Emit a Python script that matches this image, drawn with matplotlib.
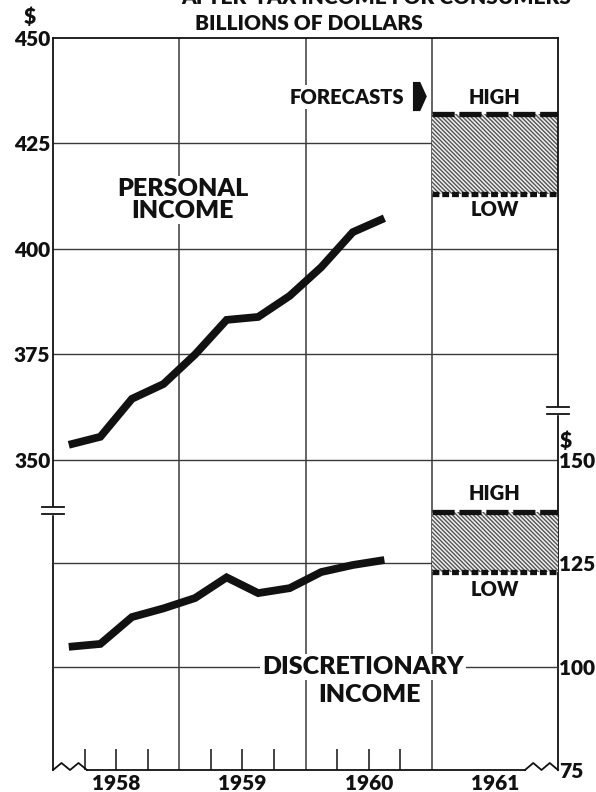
import matplotlib
matplotlib.use("Agg")
import matplotlib.pyplot as plt
from matplotlib.path import Path
import numpy as np

plt.rcParams['font.family'] = ['Lato', 'DejaVu Sans']
plt.rcParams['font.weight'] = 'heavy'
plt.rcParams['hatch.linewidth'] = 1.0

# Quarterly estimates, seasonally adjusted annual rates, billions of dollars
years = [1958, 1959, 1960, 1961]
quarter_years = [1958, 1958, 1958, 1958, 1959, 1959, 1959, 1959, 1960, 1960, 1960]
quarter_nums = [1, 2, 3, 4, 1, 2, 3, 4, 1, 2, 3]
personal_income = [353.6, 355.5, 364.5, 368.0, 375.0, 383.2, 383.9, 388.9, 395.7, 404.0, 407.3]
discretionary_income = [104.8, 105.5, 112.0, 114.1, 116.6, 121.6, 117.8, 119.0, 122.9, 124.6, 125.8]

# 1961 forecast ranges (low, high)
forecast_personal = [413.0, 432.0]
forecast_discretionary = [123.0, 137.5]

left_ticks = [350, 375, 400, 425, 450]
right_ticks = [75, 100, 125, 150]

W, H = 596, 792
fig = plt.figure(figsize=(W / 100, H / 100), dpi=100)
ax = fig.add_axes([53 / W, 22 / H, 505 / W, 732 / H])
ax2 = ax.twinx()
ax2.patch.set_visible(False)

ax.set_xlim(1958, 1962)
ax.set_ylim(276.54, 450)
ax2.set_ylim(75, 252.1)

ink = '#111111'
grid = '#3a3a3a'
WT = 'heavy'

x_q = [y + (q - 0.5) / 4 for y, q in zip(quarter_years, quarter_nums)]

# horizontal grid and year dividers
for v in left_ticks[:-1]:
    ax.axhline(v, color=grid, lw=1.0, zorder=1)
for v in right_ticks[1:3]:
    ax2.axhline(v, color=grid, lw=1.0, zorder=1)
for y in years[1:]:
    ax.axvline(y, color=grid, lw=1.1, zorder=1)

# series
ax.plot(x_q, personal_income, color=ink, lw=5.6, solid_joinstyle='miter',
        solid_capstyle='butt', zorder=4)
ax2.plot(x_q, discretionary_income, color=ink, lw=5.6, solid_joinstyle='miter',
         solid_capstyle='butt', zorder=4)

# forecast bands
def forecast_band(axis, low, high, x0, x1):
    axis.fill_between([x0, x1], [low, low], [high, high], facecolor='#efefef',
                      edgecolor='#555555', hatch='\\' * 8, linewidth=0, zorder=2)
    axis.hlines(high, x0, x1, color=ink, lw=3.8, linestyles=(0, (4.2, 0.9)),
                zorder=5).set_capstyle('butt')
    axis.hlines(low, x0, x1, color=ink, lw=3.8, linestyles=(0, (1.3, 0.55)),
                zorder=5).set_capstyle('butt')

forecast_band(ax, forecast_personal[0], forecast_personal[1], 1961, 1962)
forecast_band(ax2, forecast_discretionary[0], forecast_discretionary[1], 1961, 1962)

# spines
for s in ax2.spines.values():
    s.set_visible(False)
ax.spines['bottom'].set_visible(False)
for s in ['left', 'right', 'top']:
    ax.spines[s].set_linewidth(1.3)
    ax.spines[s].set_color(ink)

# y tick labels
ax.set_yticks(left_ticks)
ax.set_yticklabels([str(v) for v in left_ticks], fontsize=15, fontweight=WT)
ax.tick_params(axis='y', length=0, pad=2, colors=ink)
ax2.set_yticks(right_ticks)
ax2.set_yticklabels([str(v) for v in right_ticks], fontsize=15, fontweight=WT)
ax2.tick_params(axis='y', length=0, pad=1, colors=ink)

# x: year labels centred in each year, quarter ticks inside
ax.set_xticks([y + 0.5 for y in years])
ax.set_xticklabels([str(y) for y in years], fontsize=15, fontweight=WT)
ax.set_xticks([y + f for y in years[:-1] for f in (0.25, 0.5, 0.75)], minor=True)
ax.xaxis.remove_overlapping_locs = False
ax.tick_params(axis='x', which='major', length=0, pad=3, colors=ink)
ax.tick_params(axis='x', which='minor', direction='in', length=15, width=1.1,
               color=ink)

# bottom baseline with broken-scale zigzags at both ends
tA = ax.transAxes
zl = 34 / 505
zr = 472 / 505
h = 7 / 732
ax.plot([zl, zr], [0, 0], color=ink, lw=1.3, transform=tA, clip_on=False)
xs = np.linspace(0, zl, 5)
ax.plot(xs, [0, h, 0, h, 0], color=ink, lw=1.3, transform=tA, clip_on=False)
xs = np.linspace(zr, 1, 5)
ax.plot(xs, [0, h, 0, h, 0], color=ink, lw=1.3, transform=tA, clip_on=False)

# axis break marks
def axis_break(xc, yc):
    dx = 11 / 505
    dy = 3.5 / 732
    ax.fill_between([xc - 0.004, xc + 0.004], [yc - dy] * 2, [yc + dy] * 2,
                    color='white', transform=tA, clip_on=False, zorder=6)
    for s in (-dy, dy):
        ax.plot([xc - dx, xc + dx], [yc + s, yc + s], color=ink, lw=1.3,
                transform=tA, clip_on=False, zorder=7)

axis_break(0.0, (770 - 510) / 732)
axis_break(1.0, (770 - 410) / 732)

# texts
def ftext(x, y, s, size=14, ha='center', va='center', box=False, **kw):
    kws = dict(fontsize=size, fontweight=WT, ha=ha, va=va, color=ink,
               transform=fig.transFigure, zorder=10, **kw)
    if box:
        kws['bbox'] = dict(facecolor='white', edgecolor='none', pad=1.5)
    return fig.text(x / W, 1 - y / H, s, **kws)

ftext(376, 4, 'AFTER-TAX INCOME FOR CONSUMERS', size=15, va='baseline')
ftext(309, 24, 'BILLIONS OF DOLLARS', size=15)
ftext(30, 16, '$', size=15)
ftext(566, 440, '$', size=15)

ftext(183, 200, 'PERSONAL\nINCOME', size=18, box=True, linespacing=1.0)
ftext(363, 667, 'DISCRETIONARY', size=18, box=True)
ftext(370, 695, 'INCOME', size=18)

ftext(404, 97, 'FORECASTS', size=14.5, ha='right', box=True)
ftext(495, 97, 'HIGH', size=14.5)
ftext(495, 210, 'LOW', size=14.5)
ftext(495, 493, 'HIGH', size=14.5)
ftext(495, 590, 'LOW', size=14.5)

# pointer arrow after FORECASTS
arrow = Path([(-0.45, -1), (0.05, -1), (0.5, 0), (0.05, 1), (-0.45, 1), (-0.45, -1)],
             [Path.MOVETO] + [Path.LINETO] * 4 + [Path.CLOSEPOLY])
fig.lines.append(plt.Line2D([419 / W], [1 - 96 / H], marker=arrow, markersize=21,
                            color=ink, markeredgewidth=0, linestyle='none',
                            transform=fig.transFigure))

fig.savefig('out.png', dpi=100, facecolor='white')
